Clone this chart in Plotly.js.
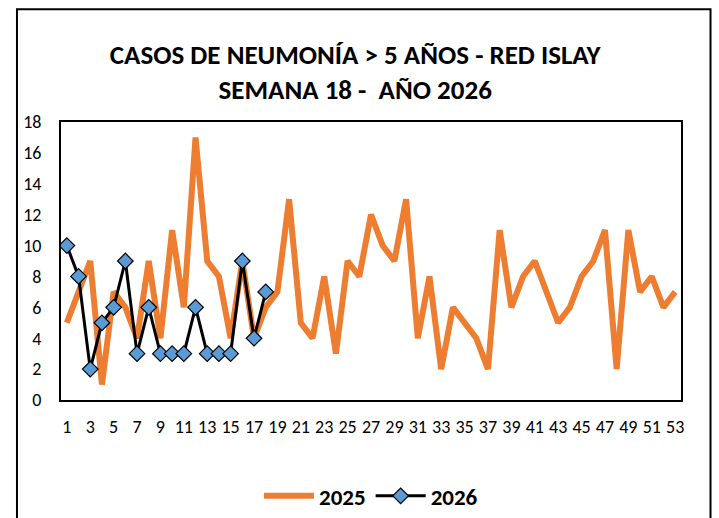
<!DOCTYPE html>
<html>
<head>
<meta charset="utf-8">
<script src="https://cdn.plot.ly/plotly-3.0.1.min.js"></script>
<style>html,body{margin:0;padding:0;background:#fff;}#chart{width:719px;height:518px;}</style>
</head>
<body>
<div id="chart"></div>
<script>
const weeks2025 = [1,2,3,4,5,6,7,8,9,10,11,12,13,14,15,16,17,18,19,20,21,22,23,24,25,26,27,28,29,30,31,32,33,34,35,36,37,38,39,40,41,42,43,44,45,46,47,48,49,50,51,52,53];
const cases2025 = [5,7,9,1,7,6,4,9,4,11,6,17,9,8,4,9,4,6,7,13,5,4,8,3,9,8,12,10,9,13,4,8,2,6,5,4,2,11,6,8,9,7,5,6,8,9,11,2,11,7,8,6,7];
const weeks2026 = [1,2,3,4,5,6,7,8,9,10,11,12,13,14,15,16,17,18];
const cases2026 = [10,8,2,5,6,9,3,6,3,3,3,6,3,3,3,9,4,7];
const xTicks = [1,3,5,7,9,11,13,15,17,19,21,23,25,27,29,31,33,35,37,39,41,43,45,47,49,51,53];
const yTicks = [0,2,4,6,8,10,12,14,16,18];
const titleText = "CASOS DE NEUMONÍA > 5 AÑOS - RED ISLAY<br>SEMANA 18 -  AÑO 2026";

const fam = "Carlito, 'Liberation Sans Narrow', 'Liberation Sans', Arial, sans-serif";

const traces = [
  {x: weeks2025, y: cases2025, name: "2025", type: "scatter", mode: "lines",
   line: {color: "#ED7D31", width: 6}},
  {x: weeks2026, y: cases2026, name: "2026", type: "scatter", mode: "lines+markers",
   line: {color: "#000000", width: 3},
   marker: {symbol: "diamond", size: 12, color: "#5B9BD5", line: {color: "#000000", width: 1.2}}}
];

const layout = {
  width: 719, height: 518,
  margin: {l: 61, r: 38, t: 122, b: 118, autoexpand: false},
  paper_bgcolor: "#ffffff", plot_bgcolor: "#ffffff",
  font: {family: fam, color: "#000000", size: 18},
  title: {text: titleText, x: 0.494, xref: "container", xanchor: "center",
          y: 1 - 64/518, yref: "container", yanchor: "middle",
          font: {family: fam, size: 27, color: "#000000", weight: "bold"}},
  xaxis: {range: [0.5, 53.5], tickvals: xTicks, ticktext: xTicks.map(String),
          showgrid: false, zeroline: false, showline: true, mirror: true,
          linecolor: "#000000", linewidth: 2, ticks: "", ticklabelstandoff: 9,
          tickfont: {family: fam, size: 18, color: "#000000"}, fixedrange: true, automargin: false},
  yaxis: {range: [0, 18], tickvals: yTicks, showgrid: false, zeroline: false,
          showline: true, mirror: true, linecolor: "#000000", linewidth: 2,
          ticks: "", ticklabelstandoff: 14,
          tickfont: {family: fam, size: 18, color: "#000000"}, fixedrange: true, automargin: false},
  showlegend: true,
  legend: {orientation: "h", x: 0.5, xanchor: "center", y: -0.345, yanchor: "middle",
           font: {family: fam, size: 23, color: "#000000", weight: "bold"},
           itemwidth: 50, bgcolor: "rgba(0,0,0,0)"},
  shapes: [
    {type: "rect", xref: "paper", yref: "paper", x0: -0.071, x1: 1.0476, y0: -0.52, y1: 1.4058,
     line: {color: "#000000", width: 2}, fillcolor: "rgba(0,0,0,0)", layer: "below"}
  ]
};

Plotly.newPlot("chart", traces, layout, {displayModeBar: false, staticPlot: true});
</script>
</body>
</html>
